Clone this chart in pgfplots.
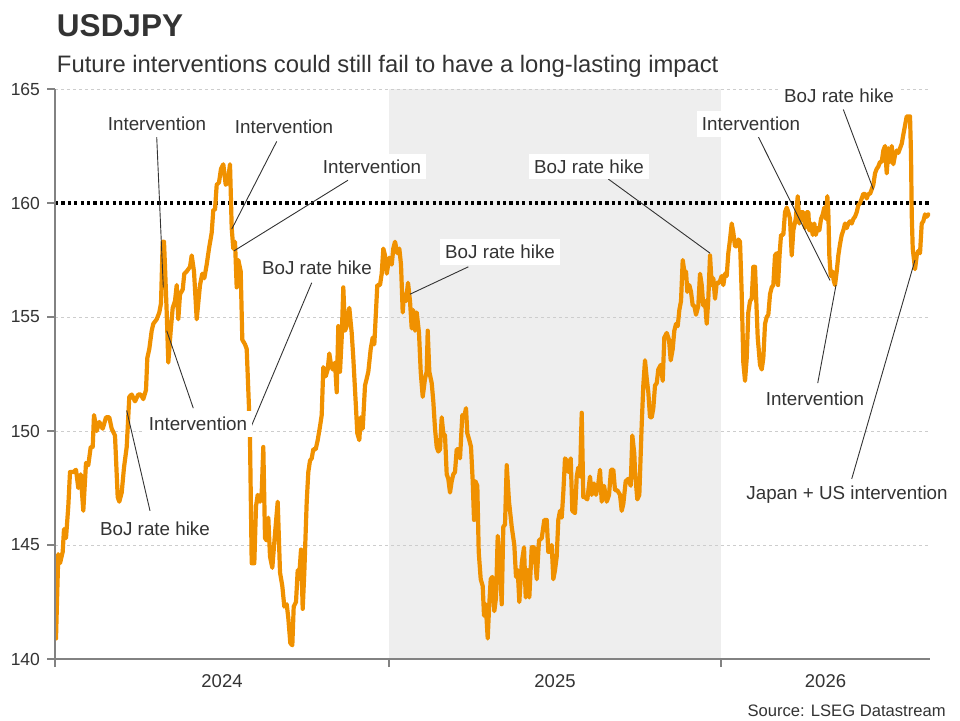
\documentclass[border=0pt]{standalone}
\usepackage{fontspec}
\setmainfont{Liberation Sans}
\usepackage{pgfplots}
\usepackage{pgfplotstable}
\pgfplotsset{compat=1.18}
\definecolor{usdorange}{RGB}{240,145,0}
\definecolor{txt}{RGB}{51,51,51}
\definecolor{bgshade}{RGB}{238,238,238}
\definecolor{axgray}{RGB}{130,130,130}
\definecolor{gridgray}{RGB}{205,205,205}

% x = trading-time index (0 = start of 2024, 334 = start of 2025, 666 = start of 2026)
\pgfplotstableread{
x y
1 140.9
3.3 144.6
5 144.2
7.7 144.7
9 145.7
11 145.3
13.3 146.7
15 148.2
18.3 148.2
21 148.3
23.3 147.5
25.7 148.1
28.3 146.5
31 148.6
33.3 148.5
35.7 149.3
37.7 149.3
39 150.7
41.7 150.0
44.3 150.4
47.7 150.1
51 150.6
54.3 150.6
56.7 150.1
60 149.8
62.7 147.1
64.3 146.9
66.7 147.3
69 148.4
71.7 149.3
74.3 151.5
76.7 151.6
80 151.3
83.3 151.6
85.7 151.6
88.3 151.4
91 151.8
92.3 153.2
94.3 153.6
96.7 154.4
98.3 154.7
101.7 154.9
104.3 155.2
106 155.6
107.7 158.3
109 158.3
110 157.2
111.7 155.2
113.3 153.0
115.7 154.4
117.7 155.4
120 155.7
121.7 156.4
123.3 154.9
125 156.0
127.7 156.2
129.3 156.9
131.7 157.0
135 157.2
136.7 157.7
139 157.0
141.7 154.9
145 156.4
147.3 156.9
149.3 156.7
151.7 157.3
154 158.0
156.7 158.7
158.3 159.7
160 159.7
161.7 160.8
164 160.9
166 161.5
168.3 161.7
170.7 160.8
172.7 160.9
175 161.7
176.7 158.9
178.3 158.0
180 158.3
181.7 156.3
183.3 157.5
185.7 157.0
187.3 154.0
190 153.8
191.7 153.6
194 151.0
195 149.6
196.7 144.2
199.3 144.2
201 146.7
202.7 147.2
205 146.9
206.7 147.3
208.3 149.3
210 145.3
211.7 145.2
213.3 146.2
215 144.5
217.3 144.0
220 145.5
222.7 146.9
225 143.8
227.3 143.2
229.3 142.3
231.7 142.4
233.3 141.8
235.3 140.7
237.3 140.6
238.7 142.3
241 142.5
242.7 143.9
244 143.5
246 144.8
247.7 142.2
249.3 143.8
251.7 146.9
253.3 148.2
255 148.7
256.7 148.8
258.3 149.2
260.7 149.2
262.7 149.6
265 150.2
266.7 150.7
268.3 152.8
270.7 152.4
272.7 152.7
274.3 153.4
276 152.9
277.7 152.7
280 153.0
281.7 151.7
283.3 154.6
285 152.6
286.7 154.1
288.3 156.3
290 154.4
291.7 154.6
294.3 155.4
296.7 154.3
298.3 153.2
301 151.0
302.3 149.9
304.3 149.6
305.7 150.6
307.7 150.1
310 152.0
311.7 152.3
313.3 152.6
315.7 153.6
317.7 154.1
319.3 153.8
322.3 156.4
325 156.4
326.7 156.9
328.3 158.0
330 157.7
331.7 156.9
334.3 157.6
336.7 157.3
338.3 158.0
340 158.3
342.3 157.8
344.3 158.0
346 157.3
347.7 155.2
349 156.0
351 155.7
353 156.5
355 155.7
356.7 154.5
358.3 155.3
360 154.4
361.7 155.2
364 154.3
365.7 152.6
367.7 151.5
370 152.3
371.7 152.6
372.7 154.4
374.3 152.6
376.7 152.1
378.3 151.3
380 150.1
381.7 149.3
383.3 149.1
385 149.2
386.7 150.6
388.3 149.9
390 149.8
391.7 148.1
393.3 147.9
395 147.3
396.7 147.8
398.3 148.1
400 148.2
401.7 149.2
403.3 149.2
405 148.8
407.3 150.7
409 150.6
411 151.0
412.3 149.9
414.3 149.6
416 149.3
417.7 147.8
419 146.1
420.3 147.8
422.3 147.6
423.7 144.7
425.7 143.5
427.7 143.2
429 141.9
430.7 142.4
432.7 140.9
434 142.2
435.7 143.5
437.3 143.6
439.3 142.1
441 142.7
442.7 145.4
445 144.1
446.7 142.4
448.3 145.8
450 145.9
451.7 148.5
454 146.9
456.7 145.8
459.3 145.0
461 143.6
462.7 143.9
464.3 142.5
466.7 144.2
469 144.9
470.7 142.7
472.7 143.9
474.3 142.7
476.7 144.9
479.3 144.9
481.7 143.5
484 145.2
486.7 145.3
489.3 146.1
491.7 146.1
493.3 144.7
495 144.7
496.7 145.0
498.3 143.5
500 143.9
501.7 144.5
503.3 146.1
505 146.5
506.7 146.2
508.3 147.3
510 148.8
511.7 148.7
513.3 148.2
515.7 148.8
517.3 146.5
520 146.4
521.7 148.0
523.3 148.4
525 148.0
526.7 150.8
528.3 147.1
530 147.1
532.3 147.0
535 148.0
536.7 147.2
539 147.7
541 147.2
543.3 147.7
545 148.3
546.7 146.9
549 147.6
551.7 146.9
554 147.2
556 148.3
558.3 148.3
560 147.4
562.3 147.4
565 147.2
566.7 146.5
568.3 146.8
570.7 147.8
573.3 147.9
575.7 147.6
577.3 149.8
579.3 149.0
580 148.2
582.3 147.0
584.3 147.2
586.7 150.3
588.3 152.0
590 153.1
591.7 152.3
593.3 151.7
595 150.6
596.7 150.6
598.3 151.0
600 152.0
601.7 152.1
603.3 152.7
605.7 152.9
607.7 152.2
609.3 154.1
611.7 154.3
614 154.0
615.7 153.1
617.7 153.6
619.3 154.4
621 154.7
622.7 154.6
624.3 155.3
626 155.7
627.7 157.5
629.3 157.0
631 157.0
632.3 156.1
634.3 156.4
636 156.1
637.7 155.5
639.3 155.5
641 155.1
643.3 155.5
645 156.9
646.7 156.4
648.3 155.5
650 155.7
651.7 154.7
653.3 155.8
655 157.7
656.7 156.4
658.3 156.7
660 155.8
661.7 156.5
664.3 156.5
666.7 156.8
668.3 156.4
670 156.9
671.7 156.8
673.3 157.8
675 158.4
676.7 159.1
678.3 158.7
680 158.1
681.7 158.1
683.3 158.4
685 158.3
686.7 156.0
688.3 153.0
690 152.2
691.7 153.2
693.3 155.2
695 155.7
696.7 155.8
698.3 157.2
700 157.2
701 156.0
702.7 154.1
705 152.9
706.7 152.7
708.3 153.2
710 154.7
711.7 155.0
713.3 155.1
715 156.0
716.7 156.3
718.3 156.4
720 157.7
721.7 157.8
723 156.4
724.5 157.7
726 158.6
728.3 158.6
730 159.6
731.7 159.8
733.3 159.6
735 159.3
736.7 157.7
738.3 158.8
740.7 159.3
742.7 160.3
744.3 159.1
746 159.6
748.3 159.6
750 158.9
751.7 159.6
753.3 159.6
754.3 158.8
756 159.1
757.7 158.6
759.3 159.1
760.7 158.6
762.7 158.9
764.3 158.8
766 159.3
767.7 159.5
769.3 159.8
771 159.3
772.3 160.3
773.3 159.6
774.3 157.7
775.7 156.8
777.3 157.0
778.7 156.6
780 156.4
781.7 157.0
783.3 157.7
785 158.2
786.7 158.6
788.3 158.8
790 159.1
791.7 158.9
793.3 159.1
795 159.2
796.7 159.1
798.3 159.3
800 159.4
801.7 159.6
803.3 159.9
805 160.0
806.7 160.2
808.3 160.4
810 160.4
811.7 160.2
813.3 160.4
815 160.4
816.7 160.6
818.3 160.8
820 161.3
821.7 161.5
823.3 161.6
825 161.8
826.7 161.8
828.3 162.3
830 162.5
831.7 161.3
833.3 162.4
835 161.8
836.7 162.5
838.3 161.7
840 162.1
841.7 162.3
843.3 162.2
845 162.4
846.7 162.6
848.3 163.0
850 163.4
851.7 163.8
853.3 163.8
855 163.8
856 162.1
856.7 159.5
857.7 158.0
859 157.5
860 157.1
861.7 157.7
863.3 157.9
865 157.8
866.7 159.1
868.3 159.2
870 159.5
871.7 159.4
873.3 159.5
}\usdjpy

\begin{document}
\begin{tikzpicture}[x=1bp,y=1bp,
  lbl/.style={fill=white, text=txt, font=\fontsize{9.4bp}{11bp}\selectfont, inner xsep=2.5bp, inner ysep=3bp},
  ldr/.style={draw=txt, line width=0.45bp},
  yr/.style={anchor=base, text=txt, font=\fontsize{9.25bp}{11bp}\selectfont, inner sep=0pt}]
\path[use as bounding box] (0,0) rectangle (480,360);
\node[anchor=base west, font=\fontsize{15.75bp}{18bp}\selectfont\bfseries, text=txt, inner sep=0pt] at (28.3,341.7) {USDJPY};
\node[anchor=base west, font=\fontsize{11.9bp}{14bp}\selectfont, text=txt, inner sep=0pt] at (28.3,323.7) {Future interventions could still fail to have a long-lasting impact};
\node[anchor=base east, font=\fontsize{8.3bp}{10bp}\selectfont, text=txt, inner sep=0pt] at (473,2) {Source: LSEG Datastream};
\begin{axis}[
  at={(27.5bp,30.5bp)}, anchor=south west,
  scale only axis, width=437.5bp, height=285bp,
  xmin=0, xmax=875, ymin=140, ymax=165,
  axis lines*=left,
  axis line style={axgray, line width=0.6bp},
  axis on top,
  clip mode=individual,
  xtick={0,334,666}, xticklabels={},
  ytick={140,145,150,155,160,165},
  tick align=outside,
  major tick length=4bp,
  tick style={axgray, line width=0.6bp},
  /pgf/number format/assume math mode=true,
  yticklabel style={font=\fontsize{8.75bp}{10bp}\selectfont, text=txt},
]
\fill[fill=bgshade] (axis cs:334,140) rectangle (axis cs:666,165);
\draw[gridgray, line width=0.4bp, dash pattern=on 1.5bp off 1.5bp] (axis cs:0,145) -- (axis cs:875,145);
\draw[gridgray, line width=0.4bp, dash pattern=on 1.5bp off 1.5bp] (axis cs:0,150) -- (axis cs:875,150);
\draw[gridgray, line width=0.4bp, dash pattern=on 1.5bp off 1.5bp] (axis cs:0,155) -- (axis cs:875,155);
\draw[gridgray, line width=0.4bp, dash pattern=on 1.5bp off 1.5bp] (axis cs:0,165) -- (axis cs:875,165);
\draw[black, line width=1.75bp, dash pattern=on 1.6bp off 1.6bp] (axis cs:0,160) -- (axis cs:875,160);
\addplot[usdorange, line width=2.1bp, line join=round, line cap=round] table[x=x, y=y] {\usdjpy};

% leader lines
\draw[ldr] (axis cs:101.7,162.9) -- (axis cs:108.3,156.3);
\draw[ldr] (axis cs:221.7,162.7) -- (axis cs:176.7,158.85);
\draw[ldr] (axis cs:293,161.0) -- (axis cs:179,157.9);
\draw[ldr] (axis cs:256.7,156.5) -- (axis cs:194.3,150.0);
\draw[ldr] (axis cs:138.3,151.0) -- (axis cs:111.7,154.4);
\draw[ldr] (axis cs:95,146.5) -- (axis cs:71.7,150.9);
\draw[ldr] (axis cs:413.3,157.2) -- (axis cs:355,156.0);
\draw[ldr] (axis cs:553.3,161.05) -- (axis cs:655,157.8);
\draw[ldr] (axis cs:703.3,162.9) -- (axis cs:775,156.6);
\draw[ldr] (axis cs:788.3,164.1) -- (axis cs:818.3,160.6);
\draw[ldr] (axis cs:762.7,152.1) -- (axis cs:781,156.4);
\draw[ldr] (axis cs:796.7,147.9) -- (axis cs:860,157.5);

% labels
\node[lbl] at (axis cs:102,163.46) {Intervention};
\node[lbl] at (axis cs:229,163.33) {Intervention};
\node[lbl] at (axis cs:317,161.6) {Intervention};
\node[lbl] at (axis cs:262,157.15) {BoJ rate hike};
\node[lbl] at (axis cs:143,150.3) {Intervention};
\node[lbl] at (axis cs:100,145.7) {BoJ rate hike};
\node[lbl] at (axis cs:445,157.85) {BoJ rate hike};
\node[lbl] at (axis cs:534,161.6) {BoJ rate hike};
\node[lbl] at (axis cs:696,163.46) {Intervention};
\node[lbl] at (axis cs:784,164.7) {BoJ rate hike};
\node[lbl] at (axis cs:760,151.4) {Intervention};
\node[lbl] at (axis cs:792,147.2) {Japan + US intervention};

% year labels
\node[yr] at (axis cs:167,140) [yshift=-14bp] {2024};
\node[yr] at (axis cs:500,140) [yshift=-14bp] {2025};
\node[yr] at (axis cs:770.5,140) [yshift=-14bp] {2026};
\end{axis}
\end{tikzpicture}
\end{document}
